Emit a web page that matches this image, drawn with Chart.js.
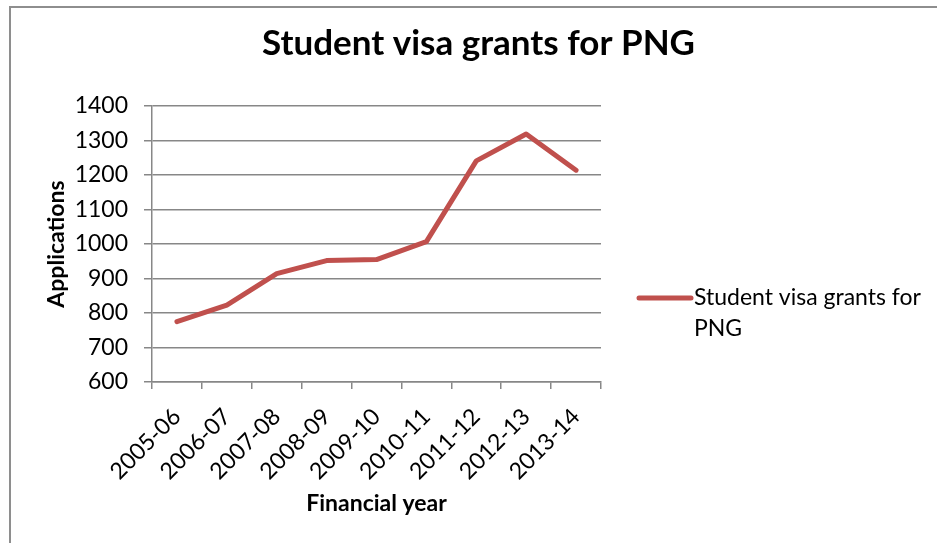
<!DOCTYPE html>
<html>
<head>
<meta charset="utf-8">
<title>Student visa grants for PNG</title>
<script src="https://cdn.jsdelivr.net/npm/chart.js@4.4.1/dist/chart.umd.min.js"></script>
<style>
    html, body { margin: 0; padding: 0; background: #fff; overflow: hidden; }
    #wrap { position: relative; width: 937px; height: 543px; }
    #frame {
        position: absolute; left: 9px; top: 6px; width: 2000px; height: 2000px;
        border: 2px solid #8e8e8e; pointer-events: none;
    }
</style>
</head>
<body>
<div id="wrap">
    <canvas id="visaChart"></canvas>
    <div id="frame"></div>
</div>
<script>
// data
const years = ['2005-06', '2006-07', '2007-08', '2008-09', '2009-10', '2010-11', '2011-12', '2012-13', '2013-14'];
const grants = [775, 823, 914, 952, 955, 1007, 1241, 1319, 1214];
const yTicks = [600, 700, 800, 900, 1000, 1100, 1200, 1300, 1400];

const seriesName = 'Student visa grants for PNG';
const lineColor = '#C0504D';
const gridColor = '#878787';
const fontFamily = 'Lato, "Open Sans", sans-serif';

// title over the whole canvas + side legend, drawn by hand
const sideLegend = {
    id: 'sideLegend',
    afterDraw(chart) {
        const ctx = chart.ctx;
        const area = chart.chartArea;
        const ds = chart.data.datasets[0];
        ctx.save();

        ctx.font = 'bold 35px ' + fontFamily;
        ctx.textAlign = 'center';
        ctx.textBaseline = 'middle';
        ctx.fillStyle = '#000';
        ctx.fillText(ds.label, chart.width / 2 + 10, 44);

        const x0 = area.right + 38;
        const y0 = area.top + 192;
        const textX = x0 + 55;
        const maxW = chart.width - textX - 2;
        ctx.font = '23px ' + fontFamily;
        ctx.textAlign = 'left';

        // wrap words
        const words = ds.label.split(' ');
        let lines = [];
        let cur = '';
        words.forEach(w => {
            const test = cur ? cur + ' ' + w : w;
            if (ctx.measureText(test).width > maxW && cur) {
                lines.push(cur);
                cur = w;
            } else {
                cur = test;
            }
        });
        if (cur) lines.push(cur);

        ctx.strokeStyle = ds.borderColor;
        ctx.lineWidth = 5;
        ctx.lineCap = 'round';
        ctx.beginPath();
        ctx.moveTo(x0, y0);
        ctx.lineTo(x0 + 52, y0);
        ctx.stroke();

        lines.forEach((l, i) => ctx.fillText(l, textX, y0 + i * 31));
        ctx.restore();
    }
};

const ctx = document.getElementById('visaChart').getContext('2d');
new Chart(ctx, {
    type: 'line',
    data: {
        labels: years,
        datasets: [{
            label: seriesName,
            data: grants,
            borderColor: lineColor,
            backgroundColor: lineColor,
            borderWidth: 5,
            borderCapStyle: 'round',
            borderJoinStyle: 'round',
            pointRadius: 0,
            tension: 0,
            fill: false
        }]
    },
    options: {
        responsive: true,
        maintainAspectRatio: false,
        animation: false,
        layout: { padding: { left: 0, right: 336, top: 106, bottom: 0 } },
        plugins: {
            legend: { display: false },
            tooltip: { enabled: false },
            title: { display: false }
        },
        scales: {
            x: {
                offset: true,
                afterFit(scale) { scale.height = 161; },
                grid: {
                    offset: true,
                    drawOnChartArea: false,
                    drawTicks: true,
                    tickLength: 7,
                    color: gridColor,
                    lineWidth: 1.5
                },
                border: { color: gridColor, width: 1.5 },
                ticks: {
                    color: '#000',
                    font: { family: fontFamily, size: 23 },
                    minRotation: 45,
                    maxRotation: 45,
                    autoSkip: false,
                    padding: 14
                },
                title: {
                    display: true,
                    text: 'Financial year',
                    color: '#000',
                    font: { family: fontFamily, size: 23, weight: 'bold' },
                    padding: { top: 0, bottom: 26 }
                }
            },
            y: {
                min: yTicks[0],
                max: yTicks[yTicks.length - 1],
                afterFit(scale) { scale.width = 152; },
                afterBuildTicks(scale) { scale.ticks = yTicks.map(v => ({ value: v })); },
                grid: {
                    color: gridColor,
                    lineWidth: 1.5,
                    drawTicks: true,
                    tickLength: 8
                },
                border: { color: gridColor, width: 1.5 },
                ticks: {
                    color: '#000',
                    font: { family: fontFamily, size: 23 },
                    padding: 16,
                    callback: v => String(v)
                },
                title: {
                    display: true,
                    text: 'Applications',
                    color: '#000',
                    font: { family: fontFamily, size: 23, weight: 'bold' },
                    padding: { top: 43, bottom: 0 }
                }
            }
        }
    },
    plugins: [sideLegend]
});
</script>
</body>
</html>
